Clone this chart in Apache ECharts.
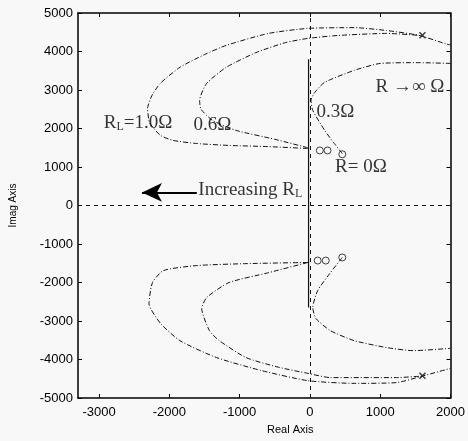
<!DOCTYPE html>
<html>
<head>
<meta charset="utf-8">
<script src="https://cdn.jsdelivr.net/npm/echarts@6/dist/echarts.min.js"></script>
<style>
html, body { margin: 0; background: #f8f8f8; }
#main { width: 468px; height: 441px; }
</style>
</head>
<body>
<div id="main"></div>
<script>
// tick labels
var xTicks = [-3000, -2000, -1000, 0, 1000, 2000];

// root locus branches, upper half  [real, imag]
var rl10Upper = [[-30,1480],[-600,1530],[-1150,1560],[-1610,1610],[-1945,1690],[-2126,1820],[-2280,2150],[-2310,2520],[-2250,2850],[-2130,3170],[-1850,3590],[-1500,3920],[-1190,4160],[-590,4470],[-30,4600],[630,4620],[1090,4545],[1550,4420],[1930,4200],[2000,4170]];
var rl06Upper = [[-30,1500],[-500,1720],[-1050,1950],[-1385,2210],[-1550,2500],[-1570,2730],[-1470,3170],[-1190,3590],[-770,3970],[-350,4230],[-30,4340],[390,4415],[1090,4470],[1550,4420]];
var rl03Upper = [[460,1350],[330,1650],[210,1950],[40,2470],[15,2730],[70,2940],[210,3200],[630,3510],[1000,3690],[1550,3710],[2000,3690]];

// lower half
var rl10Lower = [[-30,-1480],[-910,-1510],[-1610,-1560],[-2085,-1690],[-2240,-2000],[-2290,-2550],[-2125,-3065],[-1850,-3510],[-1330,-3950],[-685,-4290],[-30,-4550],[630,-4620],[1230,-4600],[1600,-4430],[2000,-4230]];
var rl06Lower = [[-30,-1480],[-600,-1750],[-1150,-2000],[-1470,-2390],[-1540,-2680],[-1430,-3250],[-1290,-3510],[-910,-3950],[-450,-4200],[-30,-4360],[290,-4470],[1230,-4470],[1600,-4430]];
var rl03Lower = [[460,-1350],[280,-1770],[110,-2210],[40,-2650],[85,-2935],[290,-3250],[630,-3510],[1090,-3690],[1470,-3770],[2000,-3710]];

// solid part of the imaginary axis
var imagSegment = [[-20,3800],[-20,-2650]];

// open loop poles (o) and far end marks (x)
var poles = [[140,1430],[250,1430],[460,1330],[110,-1430],[225,-1430],[460,-1350]];
var crosses = [[1600,4420],[1600,-4420]];

// annotations [x, y, text]
var notes = [
  [-2940, 2130, '{t|R}{s|L}{t|=1.0Ω}'],
  [-1665, 2080, '{t|0.6Ω}'],
  [85, 2420, '{t|0.3Ω}'],
  [925, 3065, '{t|R →∞ Ω}'],
  [350, 990, '{t|R= 0Ω}'],
  [-1595, 390, '{t|Increasing R}{s|L}']
];
var arrowFrom = [-1610, 340];
var arrowTo = [-2390, 340];

var ink = '#111';
var locusStyle = { color: ink, width: 1, type: [5, 2, 1, 2] };

function branch(d) {
  return {
    type: 'line', data: d, symbol: 'none', smooth: 0.2,
    lineStyle: locusStyle, silent: true, z: 3
  };
}

function plain(v) { return String(v); }

var chart = echarts.init(document.getElementById('main'));

var option = {
  backgroundColor: '#f8f8f8',
  animation: false,
  grid: { left: 77, right: 13, top: 13, bottom: 43, containLabel: false },
  xAxis: [{
    type: 'value', min: -3300, max: 2000,
    name: 'Real Axis', nameLocation: 'middle', nameGap: 26,
    nameTextStyle: { fontFamily: 'Liberation Sans', fontSize: 11, color: '#000', padding: [0, 0, 0, 52] },
    axisLine: { show: true, onZero: false, lineStyle: { color: '#000', width: 1.5 } },
    axisTick: { show: true, inside: true, length: 4, customValues: xTicks, lineStyle: { color: '#000' } },
    axisLabel: { customValues: xTicks, formatter: plain, fontFamily: 'Liberation Sans', fontSize: 13, color: '#000', margin: 8 },
    splitLine: { show: false }
  }, {
    type: 'value', position: 'top', min: -3300, max: 2000,
    axisLine: { show: true, onZero: false, lineStyle: { color: '#000', width: 1.5 } },
    axisTick: { show: true, inside: true, length: 4, customValues: xTicks, lineStyle: { color: '#000' } },
    axisLabel: { show: false },
    splitLine: { show: false }
  }],
  yAxis: [{
    type: 'value', min: -5000, max: 5000, interval: 1000,
    name: 'Imag Axis', nameLocation: 'middle', nameGap: 60,
    nameTextStyle: { fontFamily: 'Liberation Sans', fontSize: 10, color: '#000' },
    axisLine: { show: true, onZero: false, lineStyle: { color: '#000', width: 1.5 } },
    axisTick: { show: true, inside: true, length: 4, lineStyle: { color: '#000' } },
    axisLabel: { formatter: plain, fontFamily: 'Liberation Sans', fontSize: 13, color: '#000', margin: 5 },
    splitLine: { show: false }
  }, {
    type: 'value', position: 'right', min: -5000, max: 5000, interval: 1000,
    axisLine: { show: true, onZero: false, lineStyle: { color: '#000', width: 1.5 } },
    axisTick: { show: true, inside: true, length: 4, lineStyle: { color: '#000' } },
    axisLabel: { show: false },
    splitLine: { show: false }
  }],
  series: [
    branch(rl10Upper), branch(rl06Upper), branch(rl03Upper),
    branch(rl10Lower), branch(rl06Lower), branch(rl03Lower),
    {
      type: 'line', data: imagSegment, symbol: 'none',
      lineStyle: { color: ink, width: 1.2 }, silent: true,
      markLine: {
        silent: true, symbol: 'none', label: { show: false },
        lineStyle: { color: ink, width: 1, type: [4, 4] },
        data: [{ xAxis: 0 }, { yAxis: 0 }]
      }
    },
    {
      type: 'scatter', data: poles, symbol: 'circle', symbolSize: 7,
      itemStyle: { color: 'rgba(0,0,0,0)', borderColor: ink, borderWidth: 1 }, z: 4
    },
    {
      type: 'scatter', data: crosses, symbol: 'path://M0,0L10,10M10,0L0,10', symbolSize: 6,
      itemStyle: { color: 'rgba(0,0,0,0)', borderColor: ink, borderWidth: 1.5 }, z: 4
    },
    {
      type: 'scatter', symbol: 'circle', symbolSize: 1, silent: true, z: 5,
      itemStyle: { color: 'rgba(0,0,0,0)' },
      data: notes.map(function (n) { return { value: [n[0], n[1]], text: n[2] }; }),
      label: {
        show: true, position: 'right', distance: 0, align: 'left', verticalAlign: 'middle',
        formatter: function (p) { return p.data.text; },
        rich: {
          t: { fontFamily: 'Liberation Serif', fontSize: 19, color: '#000' },
          s: { fontFamily: 'Liberation Serif', fontSize: 12, color: '#000', verticalAlign: 'bottom', padding: [6, 0, 0, 0] }
        }
      },
      markLine: {
        silent: true, symbol: ['none', 'arrow'], symbolSize: [14, 20], label: { show: false },
        lineStyle: { color: '#000', width: 2, type: 'solid' },
        data: [[{ coord: arrowFrom }, { coord: arrowTo }]]
      }
    }
  ]
};

chart.setOption(option);
</script>
</body>
</html>
